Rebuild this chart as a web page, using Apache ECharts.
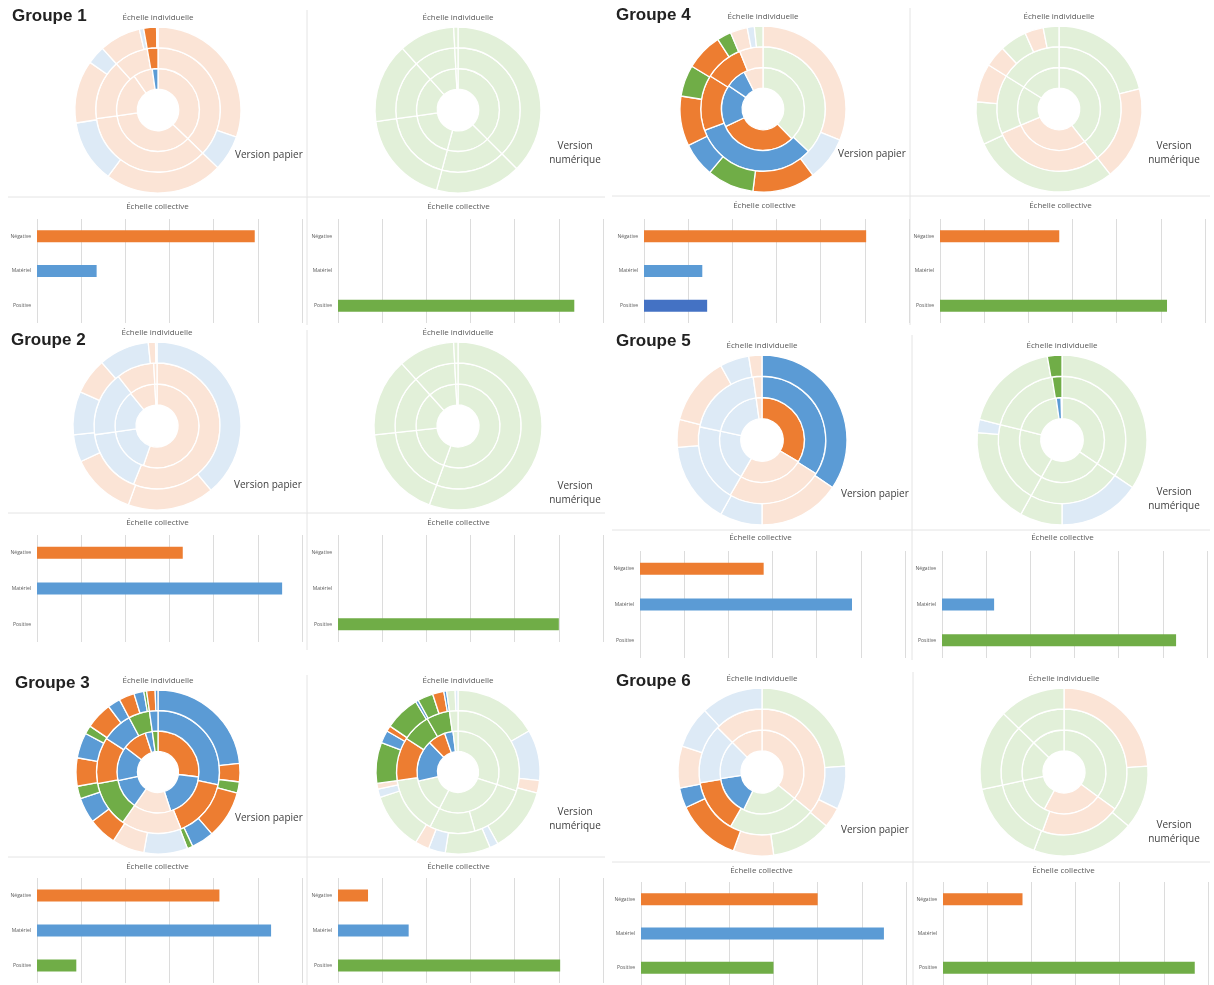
<!DOCTYPE html>
<html><head><meta charset="utf-8">
<script src="https://cdn.jsdelivr.net/npm/echarts@6/dist/echarts.min.js"></script>
<style>html,body{margin:0;padding:0;background:#fff}#c{width:1214px;height:985px}</style>
</head><body><div id="c"></div>
<script>
// ---------- DATA ----------
// Sunburst rings: [angle value, category]  N/M/P = Négative/Matériel/Positive (highlighted), n/m/p = faded
const g1PapierInner  = [[134,'n'],[128,'n'],[63,'n'],[27,'n'],[8,'M']];
const g1PapierMiddle = [[134,'n'],[128,'n'],[56,'n'],[32,'n'],[10,'N']];
const g1PapierOuter  = [[109,'n'],[25,'m'],[83,'n'],[44,'m'],[44,'n'],[13,'m'],[29,'n'],[3,'m'],[9,'N'],[1,'n']];
const g1NumInner  = [[135,'p'],[60,'p'],[67,'p'],[56,'p'],[39,'p'],[3,'p']];
const g1NumMiddle = [[135,'p'],[60,'p'],[67,'p'],[56,'p'],[39,'p'],[3,'p']];
const g1NumOuter  = [[135,'p'],[60,'p'],[67,'p'],[56,'p'],[39,'p'],[3,'p']];

const g2PapierInner  = [[199,'n'],[63,'m'],[59,'m'],[36,'n'],[3,'n']];
const g2PapierMiddle = [[202,'n'],[60,'m'],[60,'m'],[35,'n'],[3,'n']];
const g2PapierOuter  = [[140,'m'],[60,'n'],[45,'n'],[19,'m'],[30,'m'],[25,'n'],[35,'m'],[5,'n'],[1,'m']];
const g2NumInner  = [[200,'p'],[64,'p'],[54,'p'],[39,'p'],[3,'p']];
const g2NumMiddle = [[200,'p'],[64,'p'],[54,'p'],[39,'p'],[3,'p']];
const g2NumOuter  = [[200,'p'],[64,'p'],[54,'p'],[39,'p'],[3,'p']];

const g3PapierInner  = [[97,'N'],[65,'M'],[53,'n'],[43,'M'],[49,'M'],[35,'N'],[10,'M'],[8,'P']];
const g3PapierMiddle = [[102,'M'],[56,'N'],[57,'n'],[44,'P'],[44,'N'],[29,'M'],[20,'P'],[8,'M']];
const g3PapierOuter  = [[84,'M'],[13,'N'],[8,'P'],[34,'N'],[16,'M'],[4,'P'],[31,'m'],[23,'n'],[20,'N'],[18,'M'],[9,'P'],[20,'N'],[18,'M'],[6,'P'],[19,'N'],[9,'M'],[11,'N'],[7,'M'],[2,'P'],[6,'N'],[2,'M']];
const g3NumInner  = [[108,'p'],[99,'p'],[50,'p'],[59,'M'],[25,'N'],[12,'M'],[7,'p']];
const g3NumMiddle = [[108,'p'],[56,'p'],[43,'p'],[55,'p'],[41,'N'],[27,'P'],[22,'P'],[8,'p']];
const g3NumOuter  = [[60,'p'],[36,'m'],[9,'n'],[46,'p'],[6,'m'],[32,'p'],[12,'m'],[10,'n'],[41,'p'],[6,'m'],[4,'n'],[29,'P'],[9,'M'],[4,'N'],[25,'P'],[2,'M'],[11,'P'],[8,'N'],[2,'M'],[6,'p'],[2,'m']];

const g4PapierInner  = [[136,'p'],[109,'N'],[59,'M'],[29,'M'],[27,'n']];
const g4PapierMiddle = [[133,'p'],[117,'M'],[52,'N'],[36,'N'],[22,'n']];
const g4PapierOuter  = [[112,'n'],[31,'m'],[44,'N'],[33,'P'],[24,'M'],[35,'N'],[22,'P'],[26,'N'],[10,'P'],[12,'n'],[5,'m'],[6,'p']];
const g4NumInner  = [[142,'p'],[105,'n'],[55,'p'],[58,'p']];
const g4NumMiddle = [[142,'p'],[105,'n'],[55,'p'],[58,'p']];
const g4NumOuter  = [[76,'p'],[66,'n'],[103,'p'],[30,'p'],[27,'n'],[15,'n'],[19,'p'],[13,'n'],[11,'p']];

const g5PapierInner  = [[121,'N'],[89,'n'],[72,'m'],[70,'m'],[8,'n']];
const g5PapierMiddle = [[122,'M'],[88,'n'],[72,'m'],[70,'m'],[8,'n']];
const g5PapierOuter  = [[124,'M'],[56,'n'],[29,'m'],[56,'m'],[19,'n'],[47,'n'],[20,'m'],[9,'n']];
const g5NumInner  = [[124,'p'],[85,'p'],[75,'p'],[68,'p'],[7,'M'],[1,'p']];
const g5NumMiddle = [[124,'p'],[85,'p'],[75,'p'],[67,'p'],[9,'P']];
const g5NumOuter  = [[124,'p'],[56,'m'],[29,'p'],[66,'p'],[9,'m'],[66,'p'],[10,'P']];

const g6PapierInner  = [[129,'n'],[77,'p'],[55,'M'],[54,'m'],[45,'n']];
const g6PapierMiddle = [[129,'n'],[81,'p'],[50,'N'],[55,'m'],[45,'n']];
const g6PapierOuter  = [[86,'p'],[30,'m'],[14,'n'],[42,'p'],[28,'n'],[45,'N'],[14,'M'],[29,'n'],[29,'m'],[43,'m']];
const g6NumInner  = [[126,'p'],[82,'n'],[50,'p'],[56,'p'],[46,'p']];
const g6NumMiddle = [[126,'p'],[74,'n'],[58,'p'],[56,'p'],[46,'p']];
const g6NumOuter  = [[86,'n'],[44,'p'],[71,'p'],[57,'p'],[56,'p'],[46,'p']];

// Bar charts "Échelle collective": values for Négative, Matériel, Positive
const barCategories = ['Négative','Matériel','Positive'];
const g1PapierBars = [4.93, 1.35, 0];
const g1NumBars    = [0, 0, 5.35];
const g2PapierBars = [3.3, 5.55, 0];
const g2NumBars    = [0, 0, 5.0];
const g3PapierBars = [4.13, 5.3, 0.89];
const g3NumBars    = [0.68, 1.6, 5.03];
const g4PapierBars = [5.03, 1.32, 1.43];
const g4NumBars    = [2.7, 0, 5.14];
const g5PapierBars = [2.8, 4.8, 0];
const g5NumBars    = [0, 1.18, 5.3];
const g6PapierBars = [4.0, 5.5, 3.0];
const g6NumBars    = [1.8, 0, 5.7];
const barAxisTicks = [0,1,2,3,4,5,6];

const groupTitles = ['Groupe 1','Groupe 2','Groupe 3','Groupe 4','Groupe 5','Groupe 6'];
const pieTitle = 'Échelle individuelle';
const barTitle = 'Échelle collective';
const paperLabel = 'Version papier';
const numLabel = 'Version\nnumérique';

// ---------- STYLE / LAYOUT ----------
const COL = {N:'#ED7D31', M:'#5B9BD5', P:'#70AD47', n:'#FBE4D6', m:'#DDEAF6', p:'#E2F0D9'};
const barColors = ['#ED7D31','#5B9BD5','#70AD47'];

// lx, ly : position of the version label
const pies = [
  {rings:[g1PapierInner,g1PapierMiddle,g1PapierOuter], cx:158, cy:110, r:83, lx:235, ly:155},
  {rings:[g1NumInner,g1NumMiddle,g1NumOuter], cx:458, cy:110, r:83, lx:575, ly:153},
  {rings:[g2PapierInner,g2PapierMiddle,g2PapierOuter], cx:157, cy:426, r:84, lx:234, ly:485},
  {rings:[g2NumInner,g2NumMiddle,g2NumOuter], cx:458, cy:426, r:84, lx:575, ly:493},
  {rings:[g3PapierInner,g3PapierMiddle,g3PapierOuter], cx:158, cy:772, r:82, lx:235, ly:818},
  {rings:[g3NumInner,g3NumMiddle,g3NumOuter], cx:458, cy:772, r:82, lx:575, ly:819},
  {rings:[g4PapierInner,g4PapierMiddle,g4PapierOuter], cx:763, cy:109, r:83, lx:838, ly:154},
  {rings:[g4NumInner,g4NumMiddle,g4NumOuter], cx:1059, cy:109, r:83, lx:1174, ly:153},
  {rings:[g5PapierInner,g5PapierMiddle,g5PapierOuter], cx:762, cy:440, r:85, lx:841, ly:494},
  {rings:[g5NumInner,g5NumMiddle,g5NumOuter], cx:1062, cy:440, r:85, lx:1174, ly:499},
  {rings:[g6PapierInner,g6PapierMiddle,g6PapierOuter], cx:762, cy:772, r:84, lx:841, ly:830},
  {rings:[g6NumInner,g6NumMiddle,g6NumOuter], cx:1064, cy:772, r:84, lx:1174, ly:832}
];

const bars = [
  {data:g1PapierBars, left:37,  top:219, h:104, titleY:207},
  {data:g1NumBars,    left:338, top:219, h:104, titleY:207},
  {data:g2PapierBars, left:37,  top:535, h:107, titleY:523},
  {data:g2NumBars,    left:338, top:535, h:107, titleY:523},
  {data:g3PapierBars, left:37,  top:878, h:105, titleY:867},
  {data:g3NumBars,    left:338, top:878, h:105, titleY:867},
  {data:g4PapierBars, left:644, top:219, h:104, titleY:206, posColor:'#4472C4'},
  {data:g4NumBars,    left:940, top:219, h:104, titleY:206},
  {data:g5PapierBars, left:640, top:551, h:107, titleY:538},
  {data:g5NumBars,    left:942, top:551, h:107, titleY:538},
  {data:g6PapierBars, left:641, top:882, h:105, titleY:871},
  {data:g6NumBars,    left:943, top:882, h:105, titleY:871}
];
const barW = 265;

const groupPos = [[12,16],[11,340],[15,683],[616,15],[616,341],[616,681]];

// ---------- BUILD ----------
const series = [], grid = [], xAxis = [], yAxis = [], graphic = [];
const smallFont = '"Open Sans", "Liberation Sans", sans-serif';

pies.forEach((p, pi) => {
  p.rings.forEach((ring, k) => {
    series.push({
      type:'pie', silent:true, animation:false,
      center:[p.cx, p.cy],
      radius:[p.r*(k+1)/4, p.r*(k+2)/4],
      startAngle:90, clockwise:true,
      label:{show:false}, labelLine:{show:false},
      emphasis:{disabled:true},
      itemStyle:{borderColor:'#ffffff', borderWidth:1.3},
      data: ring.map(d => ({value:d[0], name:d[1], itemStyle:{color:COL[d[1]]}}))
    });
  });
  graphic.push({type:'text', silent:true, style:{x:p.cx, y:p.cy - p.r - 9, text:pieTitle,
    textAlign:'center', textVerticalAlign:'middle', fill:'#595959', font:'8px ' + smallFont}});
  const isPaper = pi % 2 === 0;
  if (isPaper) {
    graphic.push({type:'text', silent:true, style:{x:p.lx, y:p.ly, text:paperLabel,
      textAlign:'left', textVerticalAlign:'middle', fill:'#404040', font:'10px ' + smallFont}});
  } else {
    graphic.push({type:'text', silent:true, style:{x:p.lx, y:p.ly, text:numLabel, lineHeight:14,
      textAlign:'center', textVerticalAlign:'middle', fill:'#404040', font:'10px ' + smallFont}});
  }
});

bars.forEach((b, i) => {
  grid.push({left:b.left, top:b.top, width:barW, height:b.h, containLabel:false});
  xAxis.push({gridIndex:i, type:'value', min:barAxisTicks[0], max:barAxisTicks[barAxisTicks.length-1], interval:1,
    axisLabel:{show:false}, axisLine:{show:false}, axisTick:{show:false},
    splitLine:{show:true, lineStyle:{color:'#dcdcdc', width:1}}});
  yAxis.push({gridIndex:i, type:'category', data:barCategories, inverse:true,
    axisLine:{show:false}, axisTick:{show:false}, splitLine:{show:false},
    axisLabel:{fontSize:5, color:'#595959', margin:6, fontFamily:smallFont}});
  series.push({type:'bar', xAxisIndex:i, yAxisIndex:i, barWidth:12, silent:true, animation:false,
    data: b.data.map((v, j) => ({value:v, itemStyle:{color:(j===2 && b.posColor) ? b.posColor : barColors[j]}}))});
  graphic.push({type:'text', silent:true, style:{x:b.left + barW/2 - 12, y:b.titleY, text:barTitle,
    textAlign:'center', textVerticalAlign:'middle', fill:'#595959', font:'8px ' + smallFont}});
});

groupTitles.forEach((t, i) => {
  graphic.push({type:'text', silent:true, z:100, style:{x:groupPos[i][0], y:groupPos[i][1], text:t,
    textAlign:'left', textVerticalAlign:'middle', fill:'#222222', font:'bold 17px "Liberation Sans", Arial, sans-serif'}});
});

// panel separators
const sep = (x1,y1,x2,y2) => graphic.push({type:'line', silent:true, z:-1,
  shape:{x1,y1,x2,y2}, style:{stroke:'#e4e4e4', lineWidth:1}});
sep(307,10,307,325); sep(8,197,605,197);
sep(307,330,307,650); sep(8,513,605,513);
sep(307,675,307,985); sep(8,857,605,857);
sep(910,8,910,325); sep(612,196,1210,196);
sep(912,335,912,660); sep(612,530,1210,530);
sep(913,672,913,985); sep(612,862,1210,862);

const chart = echarts.init(document.getElementById('c'), null, {renderer:'canvas'});
chart.setOption({animation:false, grid, xAxis, yAxis, series, graphic});
</script></body></html>
